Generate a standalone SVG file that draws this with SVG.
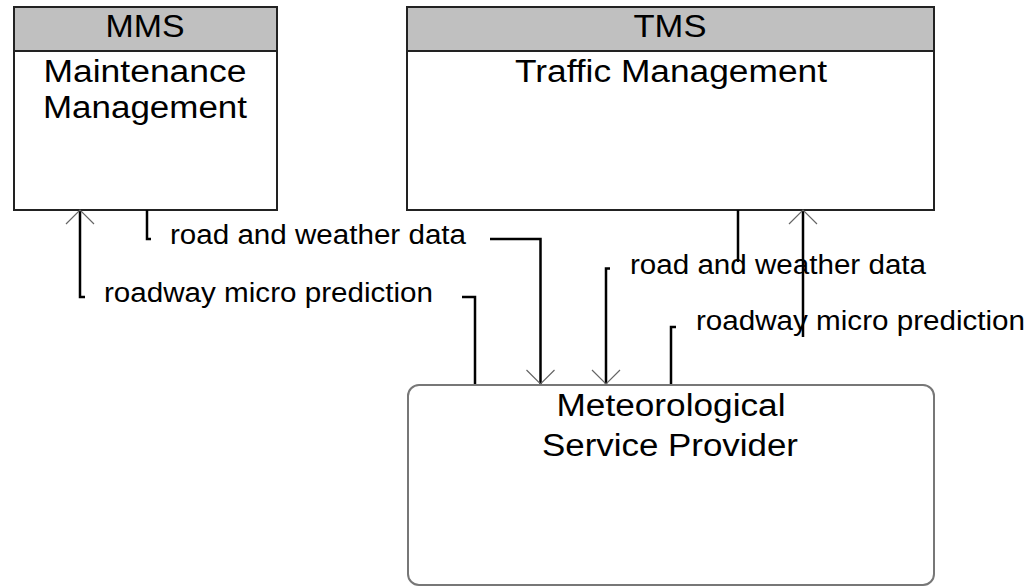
<svg xmlns="http://www.w3.org/2000/svg" width="1029" height="588" viewBox="0 0 1029 588">
<style>
.box{fill:#fff;stroke:#222;stroke-width:2}
.hdr{fill:#c0c0c0;stroke:#222;stroke-width:2}
.rbox{fill:#fff;stroke:#777;stroke-width:2}
.t{font-family:"Liberation Sans",Arial,sans-serif;font-size:31px;fill:#000;text-anchor:middle}
.lbl{font-family:"Liberation Sans",Arial,sans-serif;font-size:27px;fill:#000}
.ln{fill:none;stroke:#000;stroke-width:2.5}
.ah{fill:none;stroke:#666;stroke-width:1.2}
</style>
<rect width="1029" height="588" fill="#fff"/>
<g id="mms">
<rect class="box" x="14" y="7" width="263" height="203"/>
<rect class="hdr" x="14" y="7" width="263" height="44"/>
<text class="t" x="145" y="37" textLength="79" lengthAdjust="spacingAndGlyphs">MMS</text>
<text class="t" x="145" y="82" textLength="203" lengthAdjust="spacingAndGlyphs">Maintenance</text>
<text class="t" x="145" y="118" textLength="204" lengthAdjust="spacingAndGlyphs">Management</text>
</g>
<g id="tms">
<rect class="box" x="407" y="7" width="527" height="203"/>
<rect class="hdr" x="407" y="7" width="527" height="44"/>
<text class="t" x="670" y="37" textLength="73" lengthAdjust="spacingAndGlyphs">TMS</text>
<text class="t" x="671" y="82" textLength="312" lengthAdjust="spacingAndGlyphs">Traffic Management</text>
</g>
<g id="msp">
<rect class="rbox" x="408" y="385" width="526" height="200" rx="11" ry="11"/>
<text class="t" x="671" y="416" textLength="229" lengthAdjust="spacingAndGlyphs">Meteorological</text>
<text class="t" x="670" y="456" textLength="256" lengthAdjust="spacingAndGlyphs">Service Provider</text>
</g>
<g id="connectors">
<g id="c1">
<text class="lbl" x="170" y="244" textLength="296" lengthAdjust="spacingAndGlyphs">road and weather data</text>
<path class="ln" d="M147,210 V239 H151 M490,239 H540.5 V384"/>
<path class="ah" d="M526.5,370 L540.5,384 L554.5,370"/>
</g>
<g id="c2">
<text class="lbl" x="104" y="302" textLength="329" lengthAdjust="spacingAndGlyphs">roadway micro prediction</text>
<path class="ln" d="M475,384 V297 H462 M85,297 H80 V210"/>
<path class="ah" d="M66,224 L80,210 L94,224"/>
</g>
<g id="c3">
<text class="lbl" x="630" y="274" textLength="296" lengthAdjust="spacingAndGlyphs">road and weather data</text>
<path class="ln" d="M738,210 V262 M610,268.5 H606 V384"/>
<path class="ah" d="M592,370 L606,384 L620,370"/>
</g>
<g id="c4">
<text class="lbl" x="696" y="330" textLength="329" lengthAdjust="spacingAndGlyphs">roadway micro prediction</text>
<path class="ln" d="M671,384 V327 H676 M803,337 V210"/>
<path class="ah" d="M789,224 L803,210 L817,224"/>
</g>
</g>
</svg>
